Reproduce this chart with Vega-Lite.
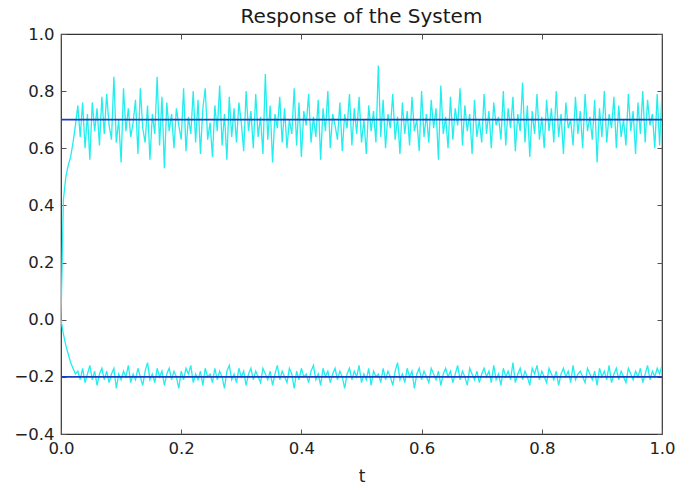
{
  "$schema": "https://vega.github.io/schema/vega-lite/v6.json",
  "width": 601,
  "height": 400,
  "autosize": {"type": "none"},
  "padding": {"left": 61, "top": 34, "right": 14, "bottom": 56},
  "background": "white",
  "title": {"text": "Response of the System", "font": "DejaVu Sans", "fontSize": 20, "fontWeight": "normal", "color": "#1a1a1a", "offset": -1},
  "config": {
    "view": {"stroke": "#333333", "strokeWidth": 1.2},
    "axis": {"grid": false, "domain": false, "labelFlush": false, "labelFont": "DejaVu Sans", "labelFontSize": 16.5, "labelColor": "#222222", "titleFont": "DejaVu Sans", "titleFontSize": 17, "titleFontWeight": "normal", "titleColor": "#222222", "tickColor": "#555555", "tickSize": -5, "tickWidth": 1}
  },
  "datasets": {
    "sig": [
      {"t":0,"u":0.00,"l":0.00},{"t":0.004,"u":0.42,"l":-0.05},{"t":0.008,"u":0.50,"l":-0.09},{"t":0.012,"u":0.54,"l":-0.12},{"t":0.016,"u":0.57,"l":-0.15},{"t":0.02,"u":0.62,"l":-0.17},{"t":0.024,"u":0.68,"l":-0.19},{"t":0.028,"u":0.75,"l":-0.18},{"t":0.032,"u":0.64,"l":-0.21},{"t":0.036,"u":0.76,"l":-0.17},
      {"t":0.04,"u":0.60,"l":-0.22},{"t":0.044,"u":0.72,"l":-0.19},{"t":0.048,"u":0.56,"l":-0.16},{"t":0.052,"u":0.76,"l":-0.21},{"t":0.056,"u":0.66,"l":-0.18},{"t":0.06,"u":0.74,"l":-0.23},{"t":0.064,"u":0.61,"l":-0.19},{"t":0.068,"u":0.78,"l":-0.17},{"t":0.072,"u":0.65,"l":-0.21},{"t":0.076,"u":0.79,"l":-0.18},
      {"t":0.08,"u":0.68,"l":-0.22},{"t":0.084,"u":0.63,"l":-0.19},{"t":0.088,"u":0.85,"l":-0.17},{"t":0.092,"u":0.62,"l":-0.24},{"t":0.096,"u":0.70,"l":-0.19},{"t":0.1,"u":0.55,"l":-0.21},{"t":0.104,"u":0.81,"l":-0.18},{"t":0.108,"u":0.66,"l":-0.20},{"t":0.112,"u":0.74,"l":-0.16},{"t":0.116,"u":0.64,"l":-0.22},
      {"t":0.12,"u":0.69,"l":-0.19},{"t":0.124,"u":0.77,"l":-0.21},{"t":0.128,"u":0.58,"l":-0.17},{"t":0.132,"u":0.81,"l":-0.20},{"t":0.136,"u":0.67,"l":-0.23},{"t":0.14,"u":0.62,"l":-0.18},{"t":0.144,"u":0.75,"l":-0.15},{"t":0.148,"u":0.56,"l":-0.21},{"t":0.152,"u":0.72,"l":-0.19},{"t":0.156,"u":0.65,"l":-0.22},
      {"t":0.16,"u":0.85,"l":-0.17},{"t":0.164,"u":0.61,"l":-0.20},{"t":0.168,"u":0.78,"l":-0.18},{"t":0.172,"u":0.53,"l":-0.23},{"t":0.176,"u":0.76,"l":-0.19},{"t":0.18,"u":0.66,"l":-0.17},{"t":0.184,"u":0.72,"l":-0.21},{"t":0.188,"u":0.60,"l":-0.18},{"t":0.192,"u":0.74,"l":-0.20},{"t":0.196,"u":0.68,"l":-0.24},
      {"t":0.2,"u":0.63,"l":-0.18},{"t":0.204,"u":0.81,"l":-0.21},{"t":0.208,"u":0.59,"l":-0.17},{"t":0.212,"u":0.71,"l":-0.19},{"t":0.216,"u":0.65,"l":-0.16},{"t":0.22,"u":0.80,"l":-0.22},{"t":0.224,"u":0.62,"l":-0.19},{"t":0.228,"u":0.77,"l":-0.21},{"t":0.232,"u":0.58,"l":-0.18},{"t":0.236,"u":0.74,"l":-0.23},
      {"t":0.24,"u":0.81,"l":-0.17},{"t":0.244,"u":0.63,"l":-0.20},{"t":0.248,"u":0.69,"l":-0.19},{"t":0.252,"u":0.57,"l":-0.22},{"t":0.256,"u":0.75,"l":-0.17},{"t":0.26,"u":0.66,"l":-0.21},{"t":0.264,"u":0.82,"l":-0.18},{"t":0.268,"u":0.61,"l":-0.20},{"t":0.272,"u":0.72,"l":-0.24},{"t":0.276,"u":0.56,"l":-0.18},
      {"t":0.28,"u":0.78,"l":-0.16},{"t":0.284,"u":0.64,"l":-0.21},{"t":0.288,"u":0.74,"l":-0.19},{"t":0.292,"u":0.62,"l":-0.22},{"t":0.296,"u":0.76,"l":-0.17},{"t":0.3,"u":0.69,"l":-0.20},{"t":0.304,"u":0.59,"l":-0.18},{"t":0.308,"u":0.80,"l":-0.23},{"t":0.312,"u":0.66,"l":-0.19},{"t":0.316,"u":0.73,"l":-0.17},
      {"t":0.32,"u":0.60,"l":-0.21},{"t":0.324,"u":0.79,"l":-0.18},{"t":0.328,"u":0.64,"l":-0.20},{"t":0.332,"u":0.71,"l":-0.22},{"t":0.336,"u":0.58,"l":-0.17},{"t":0.34,"u":0.86,"l":-0.19},{"t":0.344,"u":0.63,"l":-0.21},{"t":0.348,"u":0.75,"l":-0.18},{"t":0.352,"u":0.55,"l":-0.23},{"t":0.356,"u":0.72,"l":-0.19},
      {"t":0.36,"u":0.67,"l":-0.16},{"t":0.364,"u":0.78,"l":-0.21},{"t":0.368,"u":0.62,"l":-0.18},{"t":0.372,"u":0.74,"l":-0.20},{"t":0.376,"u":0.60,"l":-0.22},{"t":0.38,"u":0.70,"l":-0.17},{"t":0.384,"u":0.65,"l":-0.19},{"t":0.388,"u":0.81,"l":-0.24},{"t":0.392,"u":0.61,"l":-0.18},{"t":0.396,"u":0.76,"l":-0.21},
      {"t":0.4,"u":0.57,"l":-0.17},{"t":0.404,"u":0.73,"l":-0.20},{"t":0.408,"u":0.68,"l":-0.19},{"t":0.412,"u":0.79,"l":-0.22},{"t":0.416,"u":0.62,"l":-0.18},{"t":0.42,"u":0.71,"l":-0.16},{"t":0.424,"u":0.64,"l":-0.21},{"t":0.428,"u":0.77,"l":-0.19},{"t":0.432,"u":0.56,"l":-0.23},{"t":0.436,"u":0.74,"l":-0.17},
      {"t":0.44,"u":0.66,"l":-0.20},{"t":0.444,"u":0.80,"l":-0.18},{"t":0.448,"u":0.60,"l":-0.22},{"t":0.452,"u":0.72,"l":-0.19},{"t":0.456,"u":0.68,"l":-0.17},{"t":0.46,"u":0.63,"l":-0.21},{"t":0.464,"u":0.76,"l":-0.18},{"t":0.468,"u":0.59,"l":-0.20},{"t":0.472,"u":0.72,"l":-0.24},{"t":0.476,"u":0.67,"l":-0.19},
      {"t":0.48,"u":0.79,"l":-0.17},{"t":0.484,"u":0.61,"l":-0.21},{"t":0.488,"u":0.74,"l":-0.18},{"t":0.492,"u":0.65,"l":-0.20},{"t":0.496,"u":0.78,"l":-0.16},{"t":0.5,"u":0.62,"l":-0.22},{"t":0.504,"u":0.70,"l":-0.19},{"t":0.508,"u":0.58,"l":-0.21},{"t":0.512,"u":0.75,"l":-0.17},{"t":0.516,"u":0.66,"l":-0.23},
      {"t":0.52,"u":0.73,"l":-0.18},{"t":0.524,"u":0.62,"l":-0.20},{"t":0.528,"u":0.89,"l":-0.19},{"t":0.532,"u":0.64,"l":-0.22},{"t":0.536,"u":0.77,"l":-0.17},{"t":0.54,"u":0.60,"l":-0.21},{"t":0.544,"u":0.72,"l":-0.18},{"t":0.548,"u":0.67,"l":-0.20},{"t":0.552,"u":0.79,"l":-0.23},{"t":0.556,"u":0.63,"l":-0.18},
      {"t":0.56,"u":0.71,"l":-0.15},{"t":0.564,"u":0.58,"l":-0.21},{"t":0.568,"u":0.76,"l":-0.19},{"t":0.572,"u":0.65,"l":-0.22},{"t":0.576,"u":0.73,"l":-0.17},{"t":0.58,"u":0.61,"l":-0.20},{"t":0.584,"u":0.78,"l":-0.18},{"t":0.588,"u":0.66,"l":-0.24},{"t":0.592,"u":0.70,"l":-0.19},{"t":0.596,"u":0.59,"l":-0.17},
      {"t":0.6,"u":0.80,"l":-0.21},{"t":0.604,"u":0.64,"l":-0.18},{"t":0.608,"u":0.72,"l":-0.20},{"t":0.612,"u":0.62,"l":-0.22},{"t":0.616,"u":0.77,"l":-0.17},{"t":0.62,"u":0.67,"l":-0.19},{"t":0.624,"u":0.74,"l":-0.21},{"t":0.628,"u":0.56,"l":-0.18},{"t":0.632,"u":0.82,"l":-0.23},{"t":0.636,"u":0.65,"l":-0.19},
      {"t":0.64,"u":0.71,"l":-0.17},{"t":0.644,"u":0.60,"l":-0.20},{"t":0.648,"u":0.78,"l":-0.18},{"t":0.652,"u":0.63,"l":-0.22},{"t":0.656,"u":0.74,"l":-0.19},{"t":0.66,"u":0.68,"l":-0.16},{"t":0.664,"u":0.81,"l":-0.21},{"t":0.668,"u":0.61,"l":-0.18},{"t":0.672,"u":0.75,"l":-0.20},{"t":0.676,"u":0.66,"l":-0.23},
      {"t":0.68,"u":0.72,"l":-0.17},{"t":0.684,"u":0.58,"l":-0.19},{"t":0.688,"u":0.77,"l":-0.21},{"t":0.692,"u":0.64,"l":-0.18},{"t":0.696,"u":0.70,"l":-0.22},{"t":0.7,"u":0.62,"l":-0.19},{"t":0.704,"u":0.79,"l":-0.17},{"t":0.708,"u":0.65,"l":-0.20},{"t":0.712,"u":0.73,"l":-0.18},{"t":0.716,"u":0.60,"l":-0.22},
      {"t":0.72,"u":0.76,"l":-0.16},{"t":0.724,"u":0.68,"l":-0.21},{"t":0.728,"u":0.71,"l":-0.19},{"t":0.732,"u":0.63,"l":-0.23},{"t":0.736,"u":0.80,"l":-0.17},{"t":0.74,"u":0.61,"l":-0.20},{"t":0.744,"u":0.74,"l":-0.18},{"t":0.748,"u":0.67,"l":-0.21},{"t":0.752,"u":0.78,"l":-0.15},{"t":0.756,"u":0.59,"l":-0.22},
      {"t":0.76,"u":0.72,"l":-0.19},{"t":0.764,"u":0.66,"l":-0.17},{"t":0.768,"u":0.83,"l":-0.21},{"t":0.772,"u":0.62,"l":-0.18},{"t":0.776,"u":0.75,"l":-0.20},{"t":0.78,"u":0.57,"l":-0.23},{"t":0.784,"u":0.73,"l":-0.17},{"t":0.788,"u":0.65,"l":-0.19},{"t":0.792,"u":0.79,"l":-0.16},{"t":0.796,"u":0.63,"l":-0.21},
      {"t":0.8,"u":0.71,"l":-0.18},{"t":0.804,"u":0.60,"l":-0.20},{"t":0.808,"u":0.77,"l":-0.22},{"t":0.812,"u":0.66,"l":-0.17},{"t":0.816,"u":0.74,"l":-0.19},{"t":0.82,"u":0.62,"l":-0.21},{"t":0.824,"u":0.80,"l":-0.18},{"t":0.828,"u":0.64,"l":-0.23},{"t":0.832,"u":0.72,"l":-0.19},{"t":0.836,"u":0.58,"l":-0.17},
      {"t":0.84,"u":0.76,"l":-0.20},{"t":0.844,"u":0.67,"l":-0.18},{"t":0.848,"u":0.70,"l":-0.22},{"t":0.852,"u":0.61,"l":-0.16},{"t":0.856,"u":0.78,"l":-0.21},{"t":0.86,"u":0.65,"l":-0.19},{"t":0.864,"u":0.73,"l":-0.18},{"t":0.868,"u":0.60,"l":-0.20},{"t":0.872,"u":0.79,"l":-0.22},{"t":0.876,"u":0.66,"l":-0.17},
      {"t":0.88,"u":0.71,"l":-0.19},{"t":0.884,"u":0.63,"l":-0.21},{"t":0.888,"u":0.77,"l":-0.18},{"t":0.892,"u":0.55,"l":-0.23},{"t":0.896,"u":0.74,"l":-0.17},{"t":0.9,"u":0.64,"l":-0.20},{"t":0.904,"u":0.80,"l":-0.18},{"t":0.908,"u":0.62,"l":-0.21},{"t":0.912,"u":0.72,"l":-0.16},{"t":0.916,"u":0.67,"l":-0.22},
      {"t":0.92,"u":0.78,"l":-0.19},{"t":0.924,"u":0.60,"l":-0.17},{"t":0.928,"u":0.75,"l":-0.21},{"t":0.932,"u":0.64,"l":-0.18},{"t":0.936,"u":0.70,"l":-0.20},{"t":0.94,"u":0.61,"l":-0.22},{"t":0.944,"u":0.79,"l":-0.17},{"t":0.948,"u":0.66,"l":-0.19},{"t":0.952,"u":0.73,"l":-0.21},{"t":0.956,"u":0.58,"l":-0.18},
      {"t":0.96,"u":0.76,"l":-0.20},{"t":0.964,"u":0.65,"l":-0.17},{"t":0.968,"u":0.80,"l":-0.22},{"t":0.972,"u":0.62,"l":-0.19},{"t":0.976,"u":0.77,"l":-0.16},{"t":0.98,"u":0.68,"l":-0.21},{"t":0.984,"u":0.72,"l":-0.18},{"t":0.988,"u":0.60,"l":-0.20},{"t":0.992,"u":0.79,"l":-0.17},{"t":0.996,"u":0.61,"l":-0.19},
      {"t":1,"u":0.80,"l":-0.16}
    ]
  },
  "resolve": {"axis": {"x": "independent", "y": "independent"}},
  "layer": [
    {
      "data": {"name": "sig"},
      "transform": [{"fold": ["u", "l"], "as": ["series", "value"]}],
      "mark": {"type": "line", "color": "#22eeee", "strokeWidth": 1.3, "clip": true},
      "encoding": {
        "x": {"field": "t", "type": "quantitative", "scale": {"domain": [0, 1], "nice": false, "zero": false},
              "axis": {"orient": "bottom", "values": [0, 0.2, 0.4, 0.6, 0.8, 1], "format": ".1f", "labelPadding": 11, "title": "t", "titlePadding": 12}},
        "y": {"field": "value", "type": "quantitative", "scale": {"domain": [-0.4, 1.0], "nice": false, "zero": false},
              "axis": {"orient": "left", "values": [-0.4, -0.2, 0, 0.2, 0.4, 0.6, 0.8, 1.0], "format": ".1f", "labelPadding": 12, "title": null}},
        "detail": {"field": "series"}
      }
    },
    {
      "data": {"values": [{"level": 0.7}, {"level": -0.2}]},
      "mark": {"type": "rule", "color": "#1a3cc0", "strokeWidth": 1.8},
      "encoding": {
        "y": {"field": "level", "type": "quantitative",
              "axis": {"orient": "right", "values": [-0.4, -0.2, 0, 0.2, 0.4, 0.6, 0.8, 1.0], "labels": false, "title": null}}
      }
    },
    {
      "data": {"values": [{"pos": 0}]},
      "mark": {"type": "rule", "opacity": 0},
      "encoding": {
        "x": {"field": "pos", "type": "quantitative",
              "axis": {"orient": "top", "values": [0, 0.2, 0.4, 0.6, 0.8, 1], "labels": false, "title": null}}
      }
    }
  ]
}
